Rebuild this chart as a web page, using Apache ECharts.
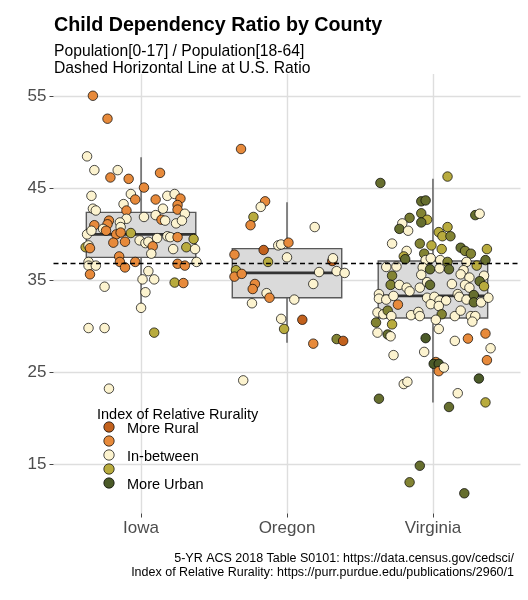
<!DOCTYPE html>
<html><head><meta charset="utf-8">
<script src="https://cdn.jsdelivr.net/npm/echarts@6/dist/echarts.min.js"></script>
<style>html,body{margin:0;padding:0;background:#fff}#c{width:528px;height:600px}</style>
</head><body><div id="c"></div>
<script>
// ---------------- data ----------------
const states = ['Iowa', 'Oregon', 'Virginia'];
const yTicks = [15, 25, 35, 45, 55];
const usRatio = 36.9;
// box stats: [lower whisker, Q1, median, Q3, upper whisker]
const boxIowa = [32.0, 37.5, 40.0, 42.4, 48.4];
const boxOregon = [28.2, 33.1, 35.8, 38.45, 43.5];
const boxVirginia = [21.7, 30.9, 33.3, 37.1, 46.05];
const rurLabels = ['More Rural', '', 'In-between', '', 'More Urban'];
const rurColors = ['#c2611d', '#e78a3b', '#fcf3cf', '#b8ab3e', '#4b5a28'];
// county points: [jitter offset, ratio, rurality level 0 (rural) .. 4 (urban)]
const iowaPts = [[-0.33,55.1,1],[-0.23,52.6,1],[-0.37,48.5,2],[-0.32,47.0,2],[-0.16,47.0,2],[-0.21,46.2,1],[-0.085,46.05,1],[0.13,46.7,1],[0.02,45.1,1],[-0.34,44.2,2],[-0.07,44.4,2],[-0.04,43.8,1],[0.10,43.8,1],[0.18,44.2,2],[0.23,44.4,2],[0.27,43.9,1],[0.25,43.2,1],[0.25,42.7,1],[-0.33,42.8,2],[-0.31,42.6,2],[-0.12,43.3,2],[-0.10,42.6,1],[0.15,42.8,2],[0.30,42.25,2],[0.02,41.9,2],[0.10,42.1,2],[0.14,41.6,1],[0.165,41.5,2],[-0.10,41.7,2],[0.24,41.2,2],[0.28,41.5,2],[-0.22,41.5,1],[-0.23,41.1,1],[-0.145,41.3,2],[-0.32,41.0,1],[-0.26,40.6,2],[-0.14,40.8,2],[-0.37,40.0,2],[-0.34,40.4,2],[-0.24,40.4,1],[-0.17,40.0,1],[-0.14,40.2,1],[-0.07,40.15,3],[-0.19,39.1,1],[-0.11,39.2,1],[-0.01,39.35,2],[0.03,39.05,2],[0.05,39.2,2],[0.11,39.6,2],[0.08,38.7,1],[0.07,37.9,2],[0.18,39.8,2],[0.20,39.7,2],[0.25,39.7,1],[0.22,38.4,2],[0.31,38.6,3],[0.36,39.5,3],[0.37,38.4,2],[-0.38,38.6,3],[-0.36,38.8,2],[-0.35,38.5,1],[-0.15,37.6,1],[-0.145,37.0,1],[-0.11,36.4,1],[-0.04,37.0,1],[-0.36,37.0,2],[-0.36,36.6,2],[-0.31,36.6,2],[-0.35,35.65,1],[0.25,36.8,1],[0.30,36.6,1],[0.38,37.0,2],[0.05,36.0,2],[0.01,35.1,2],[0.09,35.1,2],[0.23,34.75,3],[0.29,34.7,1],[-0.25,34.3,2],[0.03,33.7,2],[0.0,32.0,2],[-0.36,29.8,2],[-0.25,29.8,2],[0.09,29.3,3],[-0.22,23.2,2]];
const oregonPts = [[-0.315,49.3,1],[-0.15,43.6,1],[-0.18,43.0,2],[-0.23,41.9,3],[-0.25,41.0,1],[0.19,40.8,2],[-0.06,38.8,2],[-0.04,38.9,2],[0.01,39.1,1],[-0.16,38.3,0],[-0.36,37.8,1],[0.0,37.5,2],[-0.13,37.0,3],[0.31,37.1,0],[0.315,37.4,2],[-0.35,36.1,3],[-0.36,35.4,1],[-0.31,35.7,1],[0.22,35.9,2],[0.34,36.0,2],[0.395,35.8,2],[0.18,34.6,2],[-0.22,34.6,1],[-0.235,34.05,1],[-0.14,33.6,2],[-0.12,33.1,1],[0.05,32.9,2],[-0.24,32.5,2],[-0.04,30.8,2],[0.105,30.7,0],[-0.02,29.7,3],[0.18,28.1,1],[0.34,28.6,3.5],[0.385,28.4,0],[-0.30,24.1,2]];
const virginiaPts = [[-0.36,45.6,3.75],[0.10,46.3,3],[-0.08,43.6,3.75],[-0.05,43.7,3.75],[-0.16,41.8,3.6],[-0.08,42.3,3.5],[-0.04,41.6,3],[-0.08,41.3,3.75],[-0.21,41.2,2],[-0.23,40.6,3.75],[-0.17,40.4,2],[0.29,42.1,3.75],[0.32,42.25,2],[0.10,40.8,3],[0.04,40.25,3],[0.065,39.8,3],[0.12,39.8,3.5],[-0.28,39.0,2],[-0.09,39.0,3.5],[-0.01,38.8,3],[0.06,38.4,3],[0.19,38.55,3.75],[0.22,38.2,3.5],[0.26,37.9,3.5],[0.37,38.4,3],[-0.18,38.2,2],[-0.20,37.6,3],[-0.19,37.3,3.75],[-0.06,37.9,3.5],[-0.05,37.2,2],[-0.015,37.4,2],[0.05,37.2,2],[0.10,37.0,3.5],[0.23,37.0,2],[0.30,36.6,3],[0.36,37.2,3.75],[-0.32,36.45,2],[-0.25,36.5,2],[-0.07,36.4,2],[-0.02,36.2,3.75],[0.045,36.3,2],[0.11,36.2,3.75],[0.21,36.1,2],[0.19,35.65,2],[0.25,35.3,2],[0.35,35.5,2],[-0.28,35.5,3.5],[-0.08,35.6,2],[-0.29,34.5,3.5],[-0.23,34.5,2],[-0.18,34.2,2],[-0.16,33.8,2],[-0.09,34.2,2],[-0.04,34.8,2],[-0.02,34.5,3.75],[0.13,34.6,2],[0.22,34.5,2],[0.25,34.2,2],[0.32,34.9,3.75],[0.35,34.35,3],[-0.37,33.5,2],[-0.37,33.0,2],[-0.32,32.9,2],[-0.27,33.3,2],[-0.04,33.1,2],[0.01,33.2,2],[0.045,32.8,2],[0.09,32.8,2],[0.17,33.5,2],[0.18,33.2,2],[0.23,32.9,2],[0.28,33.4,3.75],[0.28,32.6,3.75],[0.33,32.6,2],[0.38,33.1,2],[-0.24,32.35,1],[-0.015,32.4,2],[0.04,32.2,2],[-0.38,31.5,2],[-0.34,31.3,2],[-0.31,31.7,3.5],[-0.285,31.1,2],[-0.15,31.2,2],[-0.10,31.55,2],[-0.09,31.1,2],[0.06,31.3,3.5],[0.15,31.1,2],[0.19,31.7,2],[0.26,31.1,2],[0.29,31.1,2],[0.27,30.5,2],[0.02,30.7,2],[-0.39,30.4,3.5],[-0.28,30.2,3],[-0.38,29.3,2],[-0.31,29.1,3.75],[-0.29,28.9,2],[0.04,29.7,2],[-0.05,28.7,4],[0.15,28.4,2],[0.24,28.65,1],[0.36,29.2,1],[0.395,27.6,2],[-0.27,26.85,2],[-0.06,27.2,2],[0.37,26.3,1],[0.02,26.1,1],[0.005,25.9,4],[0.04,25.9,4],[0.04,25.1,1],[0.075,25.5,2],[-0.20,23.7,2],[-0.175,23.95,2],[0.315,24.3,4],[0.17,22.7,2],[-0.37,22.1,3.75],[0.11,21.2,3.75],[0.36,21.7,3],[-0.09,14.8,3.75],[-0.16,13.0,3.5],[0.215,11.8,3.75]];

// ---------------- helpers ----------------
function hex2rgb(h) { return [1, 3, 5].map(i => parseInt(h.substr(i, 2), 16)); }
function levelColor(l) {
  const i = Math.min(rurColors.length - 2, Math.floor(l));
  const t = l - i;
  const a = hex2rgb(rurColors[i]), b = hex2rgb(rurColors[i + 1]);
  return 'rgb(' + a.map((v, k) => Math.round(v + (b[k] - v) * t)).join(',') + ')';
}
const FONT = '"Liberation Sans", Arial, Helvetica, sans-serif';
const boxes = [boxIowa, boxOregon, boxVirginia];
const allPts = [iowaPts, oregonPts, virginiaPts];
const scatterData = [];
allPts.forEach((pts, si) => pts.forEach(p => scatterData.push([si + 1 + p[0], p[1], p[2]])));
const boxData = boxes.map((b, i) => [i + 1].concat(b));

const chart = echarts.init(document.getElementById('c'), null, { renderer: 'canvas' });

const legendGraphics = [{
  type: 'text', left: 97, top: 407, z: 100,
  style: { text: 'Index of Relative Rurality', font: '14.5px ' + FONT, fill: '#000' }
}];
rurColors.forEach((c, i) => {
  legendGraphics.push({
    type: 'circle', z: 100, shape: { cx: 109, cy: 427 + i * 14, r: 5.2 },
    style: { fill: c, stroke: '#000', lineWidth: 0.7 }
  });
  if (rurLabels[i]) legendGraphics.push({
    type: 'text', z: 100, x: 127, y: 428.5 + i * 14,
    style: { text: rurLabels[i], font: '14.5px ' + FONT, fill: '#000', verticalAlign: 'middle' }
  });
});

chart.setOption({
  animation: false,
  backgroundColor: '#fff',
  grid: { left: 53.5, right: 7.5, top: 74, bottom: 86.5 },
  xAxis: {
    type: 'value', min: 0.4, max: 3.6,
    axisLine: { show: false },
    axisTick: { show: true, customValues: [1, 2, 3], length: 4, lineStyle: { color: '#444', width: 1 } },
    axisLabel: { customValues: [1, 2, 3], formatter: v => states[Math.round(v) - 1], color: '#4d4d4d',
      fontSize: 17, fontFamily: FONT, margin: 6.5 },
    splitLine: { show: true, lineStyle: { color: '#dedede', width: 1.4 } }
  },
  yAxis: {
    type: 'value', min: 9.6, max: 57.47,
    axisLine: { show: false },
    axisTick: { show: true, customValues: yTicks, length: 4, lineStyle: { color: '#444', width: 1 } },
    axisLabel: { customValues: yTicks, color: '#4d4d4d', fontSize: 17, fontFamily: FONT, margin: 7 },
    splitLine: { show: true, lineStyle: { color: '#dedede', width: 1.4 } }
  },
  series: [
    {
      type: 'custom', z: 1, silent: true,
      data: boxData,
      encode: { x: 0, y: [1, 2, 3, 4, 5] },
      renderItem: function (params, api) {
        const x = api.value(0), hw = 0.375;
        const lo = api.coord([x, api.value(1)]);
        const q1 = api.coord([x - hw, api.value(2)]);
        const med = api.coord([x - hw, api.value(3)]);
        const medR = api.coord([x + hw, api.value(3)]);
        const q3 = api.coord([x + hw, api.value(4)]);
        const hi = api.coord([x, api.value(5)]);
        const ls = { stroke: '#595959', lineWidth: 1.4 };
        return { type: 'group', children: [
          { type: 'line', shape: { x1: lo[0], y1: lo[1], x2: lo[0], y2: q1[1] }, style: ls },
          { type: 'line', shape: { x1: hi[0], y1: hi[1], x2: hi[0], y2: q3[1] }, style: ls },
          { type: 'rect', shape: { x: q1[0], y: q3[1], width: q3[0] - q1[0], height: q1[1] - q3[1] },
            style: { fill: '#dadada', stroke: '#595959', lineWidth: 1.4 } },
          { type: 'line', shape: { x1: med[0], y1: med[1], x2: medR[0], y2: medR[1] },
            style: { stroke: '#333', lineWidth: 2.8 } }
        ] };
      }
    },
    {
      type: 'scatter', z: 2, silent: true,
      data: scatterData,
      symbol: 'circle', symbolSize: 9.5,
      itemStyle: { color: p => levelColor(p.value[2]), borderColor: '#000', borderWidth: 0.7, opacity: 1 }
    },
    {
      type: 'scatter', z: 3, silent: true, data: [],
      markLine: {
        silent: true, symbol: ['none', 'none'], label: { show: false },
        lineStyle: { type: [5, 3.5], color: '#000', width: 1.3 },
        emphasis: { disabled: true },
        data: [{ yAxis: usRatio }]
      }
    }
  ],
  graphic: [
    { type: 'text', left: 54, top: 16, style: { text: 'Child Dependency Ratio by County', font: 'bold 19.7px ' + FONT, fill: '#000' } },
    { type: 'text', left: 54, top: 44, style: { text: 'Population[0-17] / Population[18-64]', font: '15.7px ' + FONT, fill: '#000' } },
    { type: 'text', left: 54, top: 61, style: { text: 'Dashed Horizontal Line at U.S. Ratio', font: '15.7px ' + FONT, fill: '#000' } },
    { type: 'text', x: 514, y: 559, style: { text: '5-YR ACS 2018 Table S0101: https://data.census.gov/cedsci/', font: '12.5px ' + FONT, fill: '#000', align: 'right', verticalAlign: 'middle' } },
    { type: 'text', x: 514, y: 573, style: { text: 'Index of Relative Rurality: https://purr.purdue.edu/publications/2960/1', font: '12.5px ' + FONT, fill: '#000', align: 'right', verticalAlign: 'middle' } }
  ].concat(legendGraphics)
});
</script></body></html>
